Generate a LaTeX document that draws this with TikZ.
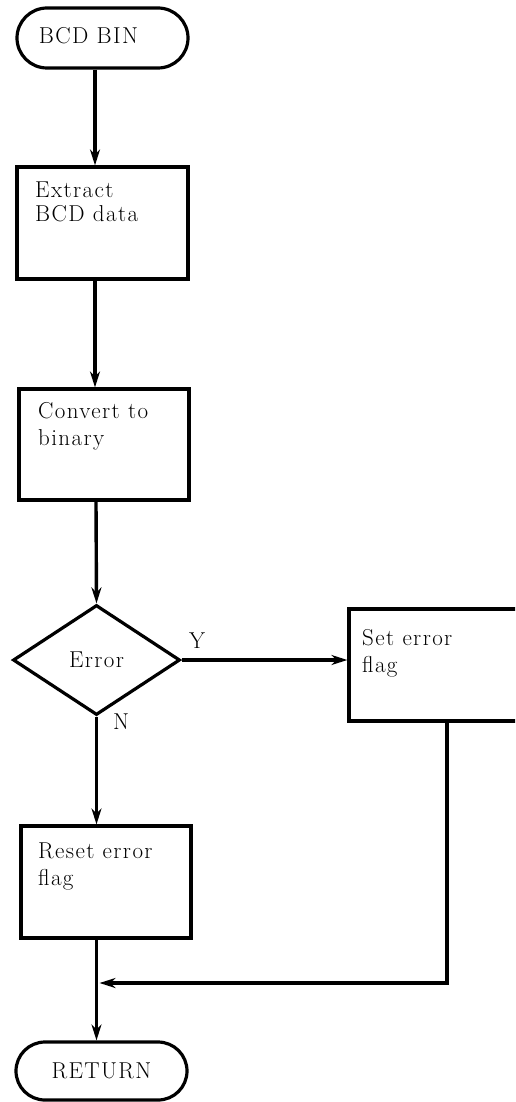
\documentclass[tikz,border=0pt]{standalone}
\usepackage{fontspec}
\setmainfont{Latin Modern Roman}[LetterSpace=6]
\usetikzlibrary{shapes.geometric,shapes.misc,arrows.meta}
\begin{document}
\begin{tikzpicture}[x=1pt,y=-1pt,
  every node/.style={font=\fontsize{23}{27}\selectfont},
  term/.style={draw, rounded rectangle, line width=3.2pt, minimum width=171pt, minimum height=60pt, inner sep=0pt},
  proc/.style={draw, rectangle, line width=3.2pt, inner sep=0pt},
  decision/.style={draw, diamond, aspect=1.5, line width=3.2pt, minimum width=167pt, minimum height=110pt, inner sep=0pt},
  boxtext/.style={anchor=north west, align=left, inner sep=0pt},
  lbl/.style={anchor=base, inner sep=0pt},
  flow/.style={line width=3.4pt, -{Stealth[length=16pt,width=10pt]}},
  link/.style={line width=3.4pt}]
\clip (0,0) rectangle (515,1102);
\fill[white] (0,0) rectangle (515,1102);

\node[term] (start) at (102.5,38) {};
\node[lbl] (starttxt) at (88.5,44) {BCD BIN};

\node[proc, minimum width=171pt, minimum height=112pt] (extract) at (102.5,223) {};
\node[boxtext] (extracttxt) at (35,181.5) {Extract\\[-3pt]BCD data};

\node[proc, minimum width=170pt, minimum height=111pt] (convert) at (104,444.5) {};
\node[boxtext] (converttxt) at (38,402.5) {Convert to\\binary};

\node[decision] (dec) at (96.5,660) {Error};

\node[proc, minimum width=212pt, minimum height=112pt] (set) at (455,665) {};
\node[boxtext] (settxt) at (362,629.5) {Set error\\flag};

\node[proc, minimum width=170pt, minimum height=112pt] (reset) at (106,882) {};
\node[boxtext] (resettxt) at (38,842.5) {Reset error\\flag};

\node[term, minimum height=58pt] (ret) at (101.5,1071) {RETURN};

\node[lbl] (ylbl) at (197,648) {Y};
\node[lbl] (nlbl) at (121,729) {N};

\coordinate (join) at (99.5,983);

\draw[flow] ([xshift=-7.5pt]start.south) -- ([xshift=-7.5pt]extract.north);
\draw[flow] ([xshift=-7.5pt]extract.south) -- ([xshift=-9pt]convert.north);
\draw[flow] ([xshift=-8pt]convert.south) -- (dec.north);
\draw[flow] (dec.east) -- (dec.east -| set.west);
\draw[flow] (dec.south) -- (dec.south |- reset.north);
\draw[flow] ([xshift=-8pt]set.south) |- (join);
\draw[flow] (dec.south |- reset.south) -- (dec.south |- ret.north);
\end{tikzpicture}
\end{document}
